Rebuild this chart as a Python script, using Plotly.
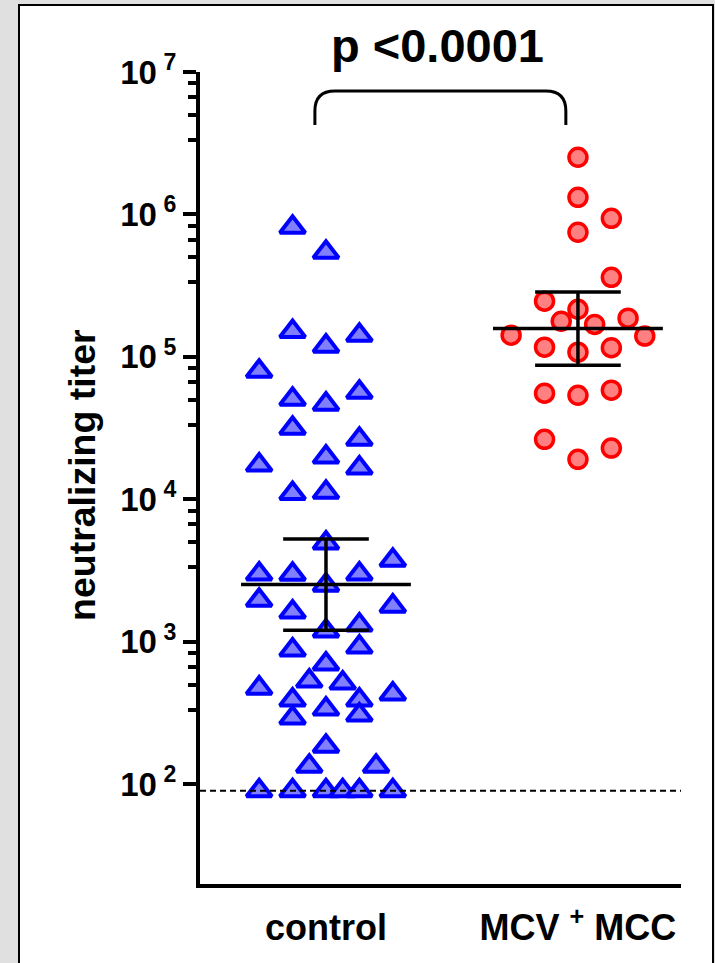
import numpy as np
import plotly.graph_objects as go

# ---------------- data ----------------
categories = ["control", "MCV\u00a0<sup>+</sup>\u00a0MCC"]

control_titer = [812000, 543000, 151000, 119000, 142000, 79400, 50500, 46600, 56500, 31600,
                 26400, 17400, 19800, 16600, 11000, 11200, 4930, 2990, 2980, 2500,
                 2990, 3740, 1960, 1620, 1780, 1190, 1310, 918, 875, 698,
                 530, 513, 473, 390, 390, 430, 337, 292, 306, 185,
                 134, 134, 90, 90, 90, 90, 90, 90]
# horizontal column of each dot in the reference dot plot (in half-symbol steps)
control_column = [-2, 0, -2, 0, 2, -4, -2, 0, 2, -2,
                  2, -4, 0, 2, -2, 0, 0, -4, -2, 0,
                  2, 4, -4, -2, 4, 0, 2, 2, -2, 0,
                  -1, 1, -4, -2, 2, 4, 0, -2, 2, 0,
                  -1, 3, -4, -2, 0, 1, 2, 4]

mcc_titer = [2520000, 1320000, 940000, 750000, 362000, 246000, 216000, 178000, 169000, 187000,
             142000, 140000, 117000, 108000, 116000, 55600, 53800, 58400, 26400, 19100, 22900]
mcc_column = [0, 0, 2, 0, 2, -2, 0, -1, 1, 3,
              -4, 4, -2, 0, 2, -2, 0, 2, -2, 0, 2]

detection_limit = 90
p_text = "p <0.0001"

y_tickvals = [1e2, 1e3, 1e4, 1e5, 1e6, 1e7]
y_ticktext = ["10\u2009<sup>%d</sup>" % int(round(np.log10(v))) for v in y_tickvals]
minor_fractions = [1 / 3, 1 / 2, 2 / 3, 5 / 6]
y_minorvals = [m * v for v in y_tickvals[1:] for m in minor_fractions]

# ---------------- layout geometry ----------------
W, H = 715, 963
ML, MR, MT, MB = 200, 34, 72, 79
PW, PH = W - ML - MR, H - MT - MB
X_RANGE = [-0.5, 1.409]
Y_RANGE = [1.30, 7.0]
SLOT = 0.0663          # half-symbol step in x units
MEAN_HALF = 0.337
CI_HALF = 0.170


def px_x(p):
    return (p - ML) / PW


def px_y(p):
    return (H - MB - p) / PH


def t_crit(df, z=1.959963985):
    # Cornish-Fisher expansion of Student t 0.975 quantile
    return (z + (z ** 3 + z) / (4 * df)
            + (5 * z ** 5 + 16 * z ** 3 + 3 * z) / (96 * df ** 2)
            + (3 * z ** 7 + 19 * z ** 5 + 17 * z ** 3 - 15 * z) / (384 * df ** 3))


def geo_stats(vals):
    lv = np.log10(np.asarray(vals, float))
    n = lv.size
    m = lv.mean()
    half = t_crit(n - 1) * lv.std(ddof=1) / np.sqrt(n)
    return 10 ** m, 10 ** (m - half), 10 ** (m + half)


fig = go.Figure()

groups = [
    (control_titer, control_column, dict(symbol="triangle-up", size=22, color="#8080ff",
                                         line=dict(color="#0000ff", width=4))),
    (mcc_titer, mcc_column, dict(symbol="circle", size=18, color="#ff8080",
                                 line=dict(color="#ff0000", width=3.5))),
]

for gi, (vals, cols, mk) in enumerate(groups):
    fig.add_trace(go.Scatter(
        x=[gi + c * SLOT for c in cols], y=vals, mode="markers",
        marker=mk, showlegend=False, hoverinfo="y", cliponaxis=False))

for gi, (vals, cols, mk) in enumerate(groups):
    gm, lo, hi = geo_stats(vals)
    xs = [gi - MEAN_HALF, gi + MEAN_HALF, None,
          gi - CI_HALF, gi + CI_HALF, None,
          gi - CI_HALF, gi + CI_HALF, None,
          gi, gi]
    ys = [gm, gm, None, hi, hi, None, lo, lo, None, lo, hi]
    fig.add_trace(go.Scatter(x=xs, y=ys, mode="lines",
                             line=dict(color="black", width=3.5),
                             showlegend=False, hoverinfo="skip", cliponaxis=False))

fig.add_trace(go.Scatter(x=X_RANGE, y=[detection_limit, detection_limit], mode="lines",
                         line=dict(color="black", width=2, dash="6px,4px"),
                         showlegend=False, hoverinfo="skip"))

# bracket over the two groups
xl, xr = -0.044, 0.952
yt, yb = px_y(91), px_y(125)
rx, ry = 20 / PW * (X_RANGE[1] - X_RANGE[0]), 20 / PH
bracket = (f"M {xl},{yb} L {xl},{yt - ry} Q {xl},{yt} {xl + rx},{yt} "
           f"L {xr - rx},{yt} Q {xr},{yt} {xr},{yt - ry} L {xr},{yb}")

shapes = [
    dict(type="rect", xref="paper", yref="paper", x0=px_x(19), x1=px_x(713),
         y0=px_y(1000), y1=px_y(5), fillcolor="white", line=dict(color="black", width=2),
         layer="below"),
    dict(type="path", xref="x", yref="paper", path=bracket,
         line=dict(color="black", width=3)),
]

font_family = "Liberation Sans, Arial, sans-serif"

annotations = [
    dict(text=p_text, xref="paper", yref="paper", x=px_x(437), y=px_y(46),
         xanchor="center", yanchor="middle", showarrow=False,
         font=dict(family=font_family, size=47, color="black", weight="bold")),
    dict(text="neutralizing titer", xref="paper", yref="paper", x=px_x(82), y=px_y(475),
         xanchor="center", yanchor="middle", textangle=-90, showarrow=False,
         font=dict(family=font_family, size=37.5, color="black", weight="bold")),
]

fig.update_layout(
    width=W, height=H,
    margin=dict(l=ML, r=MR, t=MT, b=MB, pad=0),
    paper_bgcolor="#e0e0e0", plot_bgcolor="rgba(0,0,0,0)",
    shapes=shapes, annotations=annotations,
    font=dict(family=font_family, color="black"),
    xaxis=dict(range=X_RANGE, tickvals=[0, 1], ticktext=categories,
               showline=True, linecolor="black", linewidth=4, ticks="",
               showgrid=False, zeroline=False, fixedrange=True,
               tickfont=dict(family=font_family, size=36, color="black", weight="bold"),
               ticklabelstandoff=9),
    yaxis=dict(type="log", range=Y_RANGE, tickvals=y_tickvals, ticktext=y_ticktext,
               showline=True, linecolor="black", linewidth=4,
               ticks="outside", ticklen=13, tickwidth=4, tickcolor="black",
               minor=dict(tickvals=y_minorvals, ticks="outside", ticklen=8,
                          tickwidth=4, tickcolor="black", showgrid=False),
               showgrid=False, zeroline=False, fixedrange=True,
               tickfont=dict(family=font_family, size=33, color="black", weight="bold"),
               ticklabelstandoff=0),
)

fig.write_html("out.html", config={"displayModeBar": False},
               post_script="document.body.style.margin='0px';document.body.style.overflow='hidden';")
